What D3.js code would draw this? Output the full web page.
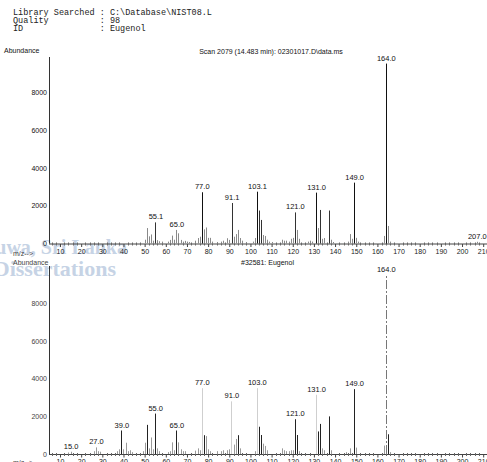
<!DOCTYPE html>
<html>
<head>
<meta charset="utf-8">
<script src="https://cdn.jsdelivr.net/npm/d3@7"></script>
<style>
  html, body { margin: 0; padding: 0; background: #fff; }
  svg { display: block; }
  .mono { font-family: "Liberation Mono", "Courier New", monospace; white-space: pre; }
  .sans { font-family: "Liberation Sans Narrow", "Arial Narrow", "Liberation Sans", Arial, sans-serif; }
</style>
</head>
<body>
<svg id="chart" width="487" height="462"></svg>
<script>
// ---- report header ----
const headerLines = [
  "Library Searched : C:\\Database\\NIST08.L",
  "Quality          : 98",
  "ID               : Eugenol"
];
const sampleTitle = "Scan 2079 (14.483 min): 02301017.D\\data.ms";
const libraryTitle = "#32581: Eugenol";

// ---- measured spectrum (scan 2079) ----
const sampleMz = [50, 51, 52, 53, 54, 55.1, 56, 57, 58, 61, 62, 63, 64, 65.0, 66, 67, 68, 69, 70, 71,
  74, 75, 76, 77.0, 78, 79, 80, 81, 82, 84, 86, 87, 89, 90, 91.1, 92, 93, 94, 95, 96, 98,
  101, 102, 103.1, 104, 105, 106, 107, 108, 109, 110, 115, 116, 117, 118, 119, 120, 121.0, 122, 123,
  127, 128, 129, 131.0, 132, 133, 134, 135, 137, 138, 139, 146, 147, 148, 149.0, 150, 151,
  163, 164.0, 165, 166, 207.0];
const sampleAbund = [200, 820, 380, 480, 150, 1120, 180, 120, 100, 100, 190, 420, 200, 720, 540, 190, 100, 140, 100, 80,
  150, 290, 360, 2720, 750, 850, 300, 300, 100, 80, 100, 150, 280, 190, 2150, 360, 500, 720, 290, 150, 80,
  100, 290, 2750, 1750, 1250, 450, 400, 200, 100, 80, 200, 150, 150, 100, 250, 300, 1650, 720, 250,
  100, 150, 100, 2700, 820, 1780, 250, 290, 1750, 200, 80, 100, 500, 250, 3230, 300, 100,
  400, 9550, 930, 100, 90];
const sampleLabelMz = [55.1, 65.0, 77.0, 91.1, 103.1, 121.0, 131.0, 149.0, 164.0, 207.0];

// ---- library spectrum (NIST #32581, Eugenol) ----
const libraryMz = [14, 15.0, 26, 27.0, 28, 29, 37, 38, 39.0, 40, 41, 42, 43, 44, 49, 50, 51, 52, 53, 54, 55.0, 56, 57,
  61, 62, 63, 64, 65.0, 66, 67, 68, 69, 74, 75, 76, 77.0, 78, 79, 80, 81, 84, 86, 87, 89, 90, 91.0, 92, 93, 94, 95,
  102, 103.0, 104, 105, 106, 107, 108, 115, 116, 117, 118, 119, 120, 121.0, 122, 123,
  131.0, 132, 133, 134, 135, 137, 138, 145, 147, 149.0, 150, 163, 164.0, 165, 166];
const libraryAbund = [80, 120, 150, 350, 150, 120, 150, 250, 1250, 250, 600, 150, 200, 100, 150, 600, 1550, 300, 880, 250, 2150, 300, 150,
  100, 150, 620, 200, 1250, 620, 250, 150, 150, 180, 300, 200, 3500, 1000, 950, 250, 150, 150, 150, 200, 200, 250, 2800, 500, 800, 1000, 300,
  150, 3500, 1450, 1010, 550, 430, 200, 300, 200, 150, 150, 200, 200, 1850, 1010, 150,
  3150, 1200, 1600, 300, 200, 2000, 200, 100, 300, 3450, 340, 450, 9500, 1050, 100];
const libraryLabelMz = [15.0, 27.0, 39.0, 55.0, 65.0, 77.0, 91.0, 103.0, 121.0, 131.0, 149.0, 164.0];

// ---- axis ticks ----
const mzTicks = [10, 20, 30, 40, 50, 60, 70, 80, 90, 100, 110, 120, 130, 140, 150, 160, 170, 180, 190, 200, 210];
const mzMinorStep = 2;
const abundTicks = [0, 2000, 4000, 6000, 8000];

const svg = d3.select("#chart");

// faint watermark from the scanned thesis page
const wm = svg.append("g").attr("fill", "#c6d3e5").attr("font-family", "'Liberation Serif', 'DejaVu Serif', serif").attr("font-weight", "bold");
wm.append("text").attr("x", 127).attr("y", 254).attr("text-anchor", "end").attr("font-size", 20).text("University of Moratuwa, Sri Lanka");
wm.append("text").attr("x", 116).attr("y", 276).attr("text-anchor", "end").attr("font-size", 22).text("Electronic Theses & Dissertations");

// header block
svg.append("g").selectAll("text").data(headerLines).join("text")
  .attr("class", "mono")
  .attr("x", 13)
  .attr("y", (d, i) => 15 + i * 8)
  .attr("font-size", 8.5)
  .attr("fill", "#222")
  .text(d => d);

// shared m/z scale
const x = d3.scaleLinear().domain([4.8, 211.8]).range([49, 487]);

const panels = [
  { mz: sampleMz, ab: sampleAbund, labels: sampleLabelMz, y0: 243.5, yTop: 57, yMax: 9900,
    title: sampleTitle, peakColor: v => v >= 2500 ? "#111" : (v >= 1000 ? "#333" : "#8a8a8a") },
  { mz: libraryMz, ab: libraryAbund, labels: libraryLabelMz, y0: 454, yTop: 266, yMax: 10000,
    title: libraryTitle, peakColor: null }
];

// library peaks printed with a very light pen
const faintLibraryPeaks = new Set([77, 91, 103, 131]);

panels.forEach((p, pi) => {
  const y = d3.scaleLinear().domain([0, p.yMax]).range([p.y0, p.yTop]);
  const g = svg.append("g");

  // y axis line
  g.append("line")
    .attr("x1", 49.5).attr("x2", 49.5)
    .attr("y1", p.yTop).attr("y2", p.y0)
    .attr("stroke", "#333").attr("stroke-width", 1);

  // y tick labels
  g.selectAll("text.ytick").data(abundTicks).join("text")
    .attr("class", "ytick sans")
    .attr("x", 47)
    .attr("y", d => y(d) + 2.5)
    .attr("text-anchor", "end")
    .attr("font-size", 7)
    .attr("fill", pi === 0 ? "#111" : "#444")
    .text(d => d);

  // x axis with major and minor ticks
  const axis = d3.axisBottom(x).tickValues(mzTicks).tickSize(3).tickPadding(2).tickFormat(d3.format("d"));
  const ax = g.append("g").attr("transform", `translate(0,${p.y0 + 0.5})`).call(axis);
  ax.select(".domain").attr("d", `M49,0H487`).attr("stroke", "#444");
  ax.selectAll(".tick line").attr("stroke", "#444");
  ax.selectAll(".tick text").attr("class", "sans").attr("font-size", 7).attr("fill", "#222");
  const minor = d3.range(6, 212, mzMinorStep).filter(v => v % 10 !== 0);
  g.selectAll("line.minor").data(minor).join("line")
    .attr("class", "minor")
    .attr("x1", d => Math.round(x(d)) + 0.5).attr("x2", d => Math.round(x(d)) + 0.5)
    .attr("y1", p.y0 - 1).attr("y2", p.y0 + 2)
    .attr("stroke", "#666").attr("stroke-width", 1);

  // peaks
  const peaks = p.mz.map((m, i) => ({ mz: m, v: p.ab[i] }));
  g.selectAll("line.peak").data(peaks).join("line")
    .attr("class", "peak")
    .attr("x1", d => Math.round(x(d.mz)) + 0.5).attr("x2", d => Math.round(x(d.mz)) + 0.5)
    .attr("y1", p.y0).attr("y2", d => y(d.v))
    .attr("stroke", d => {
      if (p.peakColor) return p.peakColor(d.v);
      if (faintLibraryPeaks.has(Math.round(d.mz))) return "#cfcfcf";
      if (Math.round(d.mz) === 164) return "#777";
      return d.v >= 1000 ? "#222" : "#9a9a9a";
    })
    .attr("stroke-width", 1)
    .attr("stroke-dasharray", d => (p.peakColor === null && Math.round(d.mz) === 164) ? "9,2,2,2" : null);

  // peak labels
  const labelled = peaks.filter(d => p.labels.includes(d.mz));
  g.selectAll("text.plabel").data(labelled).join("text")
    .attr("class", "plabel sans")
    .attr("x", d => x(d.mz) + 0.5)
    .attr("y", d => y(d.v) - 3)
    .attr("text-anchor", "middle")
    .attr("font-size", 7.5)
    .attr("fill", "#111")
    .text(d => d3.format(".1f")(d.mz));
});

// panel captions
const cap = svg.append("g").attr("class", "sans").attr("fill", "#111").attr("font-size", 7);
cap.append("text").attr("x", 4).attr("y", 53).text("Abundance");
cap.append("text").attr("x", 271).attr("y", 54).attr("text-anchor", "middle").text(sampleTitle);
cap.append("text").attr("x", 13).attr("y", 256).attr("fill", "#444").text("m/z-->");
cap.append("text").attr("x", 13).attr("y", 265).attr("fill", "#444").text("Abundance");
cap.append("text").attr("x", 241).attr("y", 265).text(libraryTitle);
cap.append("text").attr("x", 13).attr("y", 465).attr("fill", "#444").text("m/z-->");
</script>
</body>
</html>
